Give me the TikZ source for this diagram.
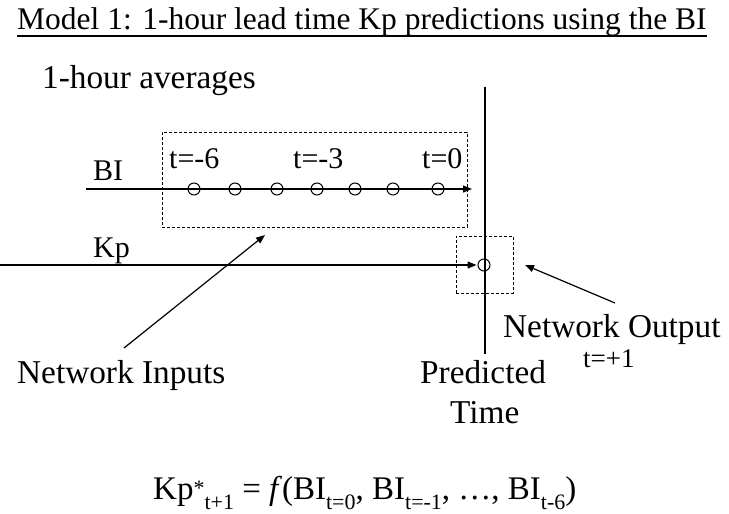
\documentclass[tikz,border=0pt]{standalone}
\usepackage{fontspec}
\setmainfont{Liberation Serif}
\usetikzlibrary{arrows.meta}
\newcommand{\sz}[1]{\fontsize{#1}{#1}\selectfont}
\newcommand{\subx}[1]{\raisebox{-10pt}{\sz{22}#1}}
\begin{document}
\begin{tikzpicture}[x=1pt,y=-1pt,
 lbl/.style={anchor=base west, inner sep=0pt, font=\sz{33.3}},
 sml/.style={anchor=base west, inner sep=0pt, font=\sz{30}},
 dot/.style={circle, draw, minimum size=12pt, inner sep=0pt, line width=1pt},
 dbox/.style={draw, dash pattern=on 3pt off 2pt, line width=0.8pt, inner sep=0pt},
 conn/.style={line width=1.2pt, -{Triangle[length=9pt,width=7pt]}},
]
\useasboundingbox (0,0) rectangle (729,514);
% title
\node[anchor=base west, inner sep=0pt, font=\sz{31.5}] (title) at (17,30) {Model 1: 1-hour lead time Kp predictions using the BI};
\draw[line width=1.2pt] ([yshift=-6pt]title.base west) -- ([yshift=-6pt]title.base east);
\node[lbl] (avg) at (42,88) {1-hour averages};
% boxes
\node[dbox, minimum width=305pt, minimum height=95pt] (inbox) at (314.5,179.5) {};
\node[dbox, minimum width=57pt, minimum height=57pt] (outbox) at (484.5,264.5) {};
% vertical time line
\coordinate (vT) at (485,87);
\coordinate (vB) at (485,354);
\draw[line width=2.8pt] (vT) -- (vB);
% BI series
\coordinate (biS) at (86,189);
\coordinate (biE) at (472,189);
\draw[conn] (biS) -- (biE);
\foreach \i/\x in {1/194,2/235,3/277,4/317,5/355,6/393,7/438}
  \node[dot] (c\i) at (\x,189) {};
% Kp series
\coordinate (kpS) at (0,265);
\node[dot] (out) at (484,265) {};
\draw[conn, shorten >=1pt] (kpS) -- (out.west);
% labels
\node[sml] (bi) at (93,180) {BI};
\node[sml] (kp) at (93,257) {Kp};
\node[sml] (t6) at (169,168) {t=-6};
\node[sml] (t3) at (293,168) {t=-3};
\node[sml] (t0) at (422,168) {t=0};
\node[lbl] (ni) at (17,383) {Network Inputs};
\node[lbl] (no) at (503,337) {Network Output};
\node[anchor=base west, inner sep=0pt, font=\sz{27}] (tp1) at (583,367) {t=+1};
\node[lbl] (pt1) at (420,383) {Predicted};
\node[lbl] (pt2) at (450,423) {Time};
% pointer arrows
\coordinate (niA) at (124,348);
\coordinate (niT) at (265,235);
\draw[conn] (niA) -- (niT);
\coordinate (noA) at (615,303);
\coordinate (noT) at (525,265);
\draw[conn] (noA) -- (noT);
% formula
\node[anchor=base west, inner sep=0pt, font=\sz{33}] (eq) at (153,499)
 {Kp\raisebox{4pt}{\sz{22}*}\subx{t+1} = \textit{f}(BI\subx{t=0}, BI\subx{t=-1}, …, BI\subx{t-6})};
\end{tikzpicture}
\end{document}
